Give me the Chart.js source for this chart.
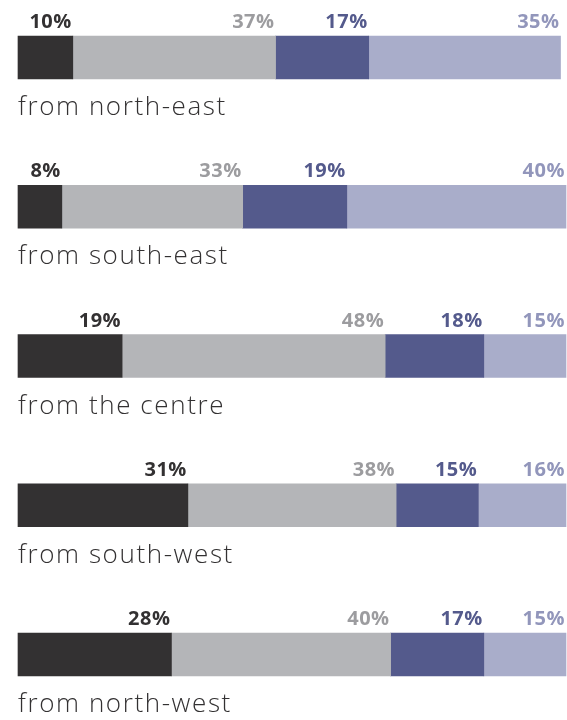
<!DOCTYPE html>
<html>
<head>
<meta charset="utf-8">
<script src="https://cdn.jsdelivr.net/npm/chart.js@4"></script>
<style>
  html, body { margin: 0; padding: 0; background: #fff; }
  #wrap { position: relative; width: 567px; height: 720px; }
</style>
</head>
<body>
<div id="wrap"><canvas id="origin"></canvas></div>
<script>
// Data
const categories = ['from north-east', 'from south-east', 'from the centre', 'from south-west', 'from north-west'];
const seriesA = [10, 8, 19, 31, 28];
const seriesB = [37, 33, 48, 38, 40];
const seriesC = [17, 19, 18, 15, 17];
const seriesD = [35, 40, 15, 16, 15];

const barColors = ['#333132', '#b4b5b8', '#545a8c', '#a9adca'];
const labelColors = ['#333132', '#9c9c9f', '#545a8c', '#9296bb'];

function makeSet(data, i) {
    return {
        data: data,
        backgroundColor: barColors[i],
        borderWidth: 0,
        barThickness: 43,
        clip: false
    };
}

// Value labels above each segment plus the category name under each bar
const barLabels = {
    id: 'barLabels',
    afterDatasetsDraw(chart) {
        const ctx = chart.ctx;
        ctx.save();
        chart.data.datasets.forEach((ds, i) => {
            const meta = chart.getDatasetMeta(i);
            meta.data.forEach((bar, j) => {
                const top = bar.y - bar.height / 2;
                ctx.font = 'bold 20px "Open Sans", sans-serif';
                ctx.letterSpacing = '0.5px';
                ctx.fillStyle = labelColors[i];
                ctx.textAlign = 'right';
                ctx.textBaseline = 'alphabetic';
                ctx.fillText(ds.data[j] + '%', bar.x - 1, top - 8);
            });
        });
        const meta0 = chart.getDatasetMeta(0);
        meta0.data.forEach((bar, j) => {
            const bottom = bar.y + bar.height / 2;
            ctx.font = '300 26px "Open Sans", sans-serif';
            ctx.letterSpacing = '1.6px';
            ctx.fillStyle = '#333132';
            ctx.textAlign = 'left';
            ctx.textBaseline = 'alphabetic';
            ctx.fillText(chart.data.labels[j], chart.chartArea.left, bottom + 36);
        });
        ctx.restore();
    }
};

new Chart(document.getElementById('origin'), {
    type: 'bar',
    data: {
        labels: categories,
        datasets: [seriesA, seriesB, seriesC, seriesD].map(makeSet)
    },
    options: {
        indexAxis: 'y',
        responsive: true,
        maintainAspectRatio: false,
        animation: false,
        layout: { padding: { top: 57.5, bottom: 65.5, left: 18, right: 1 } },
        plugins: { legend: { display: false }, tooltip: { enabled: false } },
        scales: {
            x: { stacked: true, min: 0, max: 100, display: false },
            y: { stacked: true, offset: false, display: false }
        }
    },
    plugins: [barLabels]
});
</script>
</body>
</html>
